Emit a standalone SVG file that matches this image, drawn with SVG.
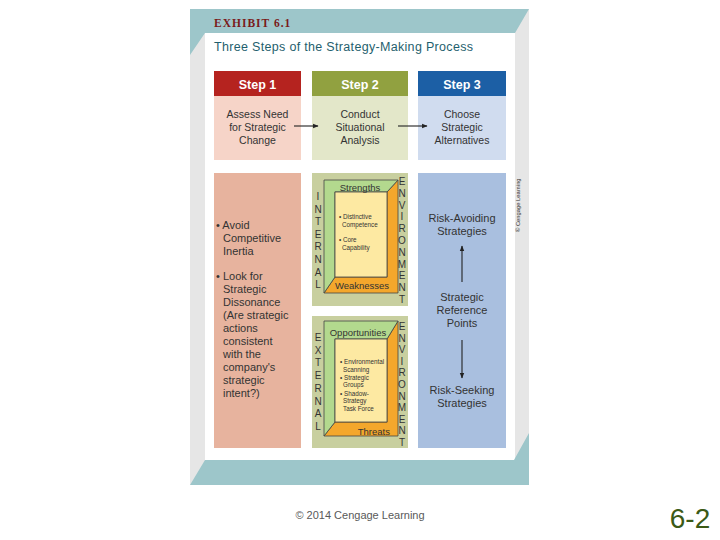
<svg xmlns="http://www.w3.org/2000/svg" width="720" height="540" viewBox="0 0 720 540">
<style>
.t{font-family:"Liberation Sans",Arial,sans-serif;fill:#333;}
.body{font-size:10.5px;text-anchor:middle;}
.lb{font-size:11px;}
.rb{font-size:11px;text-anchor:middle;}
.hd{font-family:"Liberation Sans",Arial,sans-serif;font-size:12.5px;font-weight:bold;fill:#fff;text-anchor:middle;}
.vl{font-family:"Liberation Sans",Arial,sans-serif;font-size:10px;fill:#333;text-anchor:middle;}
.sm{font-family:"Liberation Sans",Arial,sans-serif;font-size:6.3px;fill:#333;}
.band{font-family:"Liberation Sans",Arial,sans-serif;font-size:9.5px;fill:#333;}
.grn{fill:#b3d98e;stroke:#444;stroke-width:0.8;}
.org{fill:#f4a72c;stroke:#444;stroke-width:0.8;}
.yel{fill:#fde9a2;stroke:#444;stroke-width:0.8;}
.conn{stroke:#222;stroke-width:1.1;fill:none;marker-end:url(#ah);}
</style>
<defs>
<marker id="ah" viewBox="0 0 10 10" refX="9" refY="5" markerWidth="5" markerHeight="5" orient="auto">
<path d="M0,1 L10,5 L0,9 z" fill="#222"/>
</marker>
</defs>
<rect width="720" height="540" fill="#fff"/>
<!-- frame -->
<g id="frame">
<rect x="190" y="9" width="339" height="476" fill="#e6e6e6"/>
<rect x="205" y="33" width="310" height="427" fill="#fff"/>
<polygon points="190,9 529,9 515,33 205,33 190,55" fill="#9dc6ca"/>
<polygon points="190,485 529,485 529,433 514,460 205,460" fill="#9dc6ca"/>
<text x="214" y="27" font-family="Liberation Serif,serif" font-size="11.5" font-weight="bold" letter-spacing="1" fill="#7a1b1b">EXHIBIT 6.1</text>
<text x="214" y="51" font-family="Liberation Sans,Arial,sans-serif" font-size="12.5" fill="#1f5f6e" textLength="259">Three Steps of the Strategy-Making Process</text>
<text transform="translate(520,232) rotate(-90)" font-family="Liberation Sans,Arial,sans-serif" font-size="5.8" fill="#333">© Cengage Learning</text>
</g>
<!-- step 1 -->
<g id="step1">
<rect x="214" y="71" width="87" height="25" fill="#b5231f"/>
<text class="hd" x="257.5" y="89">Step 1</text>
<rect x="214" y="96" width="87" height="64" fill="#f6d4c8"/>
<text class="t body"><tspan x="257.5" y="118">Assess Need</tspan><tspan x="257.5" y="131">for Strategic</tspan><tspan x="257.5" y="144">Change</tspan></text>
</g>
<g id="step2">
<rect x="312" y="71" width="96" height="25" fill="#91a140"/>
<text class="hd" x="360" y="89">Step 2</text>
<rect x="312" y="96" width="96" height="64" fill="#e3e7c9"/>
<text class="t body"><tspan x="360" y="118">Conduct</tspan><tspan x="360" y="131">Situational</tspan><tspan x="360" y="144">Analysis</tspan></text>
</g>
<g id="step3">
<rect x="418" y="71" width="88" height="25" fill="#1c5fa5"/>
<text class="hd" x="462" y="89">Step 3</text>
<rect x="418" y="96" width="88" height="64" fill="#d0dcef"/>
<text class="t body"><tspan x="462" y="118">Choose</tspan><tspan x="462" y="131">Strategic</tspan><tspan x="462" y="144">Alternatives</tspan></text>
</g>
<!-- lower left -->
<g id="assess">
<rect x="214" y="173" width="87" height="275" fill="#e7b39e"/>
<text class="t lb"><tspan x="216" y="229">• Avoid</tspan><tspan x="223" y="242">Competitive</tspan><tspan x="223" y="255">Inertia</tspan><tspan x="216" y="280">• Look for</tspan><tspan x="223" y="293">Strategic</tspan><tspan x="223" y="306">Dissonance</tspan><tspan x="223" y="319">(Are strategic</tspan><tspan x="223" y="332">actions</tspan><tspan x="223" y="345">consistent</tspan><tspan x="223" y="358">with the</tspan><tspan x="223" y="371">company's</tspan><tspan x="223" y="384">strategic</tspan><tspan x="223" y="397">intent?)</tspan></text>
</g>
<!-- internal -->
<g id="internal">
<rect x="312" y="173" width="96" height="133" fill="#c8cf9f"/>
<polygon class="org" points="398,180 398,293 324,293 335,277 387,277 387,192"/>
<polygon class="grn" points="324,180 398,180 387,192 335,192 335,277 324,293"/>
<rect class="yel" x="335" y="192" width="52" height="85"/>
<text class="band" x="360" y="191" text-anchor="middle">Strengths</text>
<text class="band" x="362" y="289" text-anchor="middle">Weaknesses</text>
<text class="sm"><tspan x="339" y="219">• Distinctive</tspan><tspan x="342" y="227">Competence</tspan><tspan x="339" y="242">• Core</tspan><tspan x="342" y="250">Capability</tspan></text>
<text class="vl"><tspan x="318" y="200">I</tspan><tspan x="318" y="212.6">N</tspan><tspan x="318" y="225.2">T</tspan><tspan x="318" y="237.8">E</tspan><tspan x="318" y="250.4">R</tspan><tspan x="318" y="263">N</tspan><tspan x="318" y="275.6">A</tspan><tspan x="318" y="288.2">L</tspan></text>
<text class="vl"><tspan x="402" y="185">E</tspan><tspan x="402" y="196.8">N</tspan><tspan x="402" y="208.6">V</tspan><tspan x="402" y="220.4">I</tspan><tspan x="402" y="232.2">R</tspan><tspan x="402" y="244">O</tspan><tspan x="402" y="255.8">N</tspan><tspan x="402" y="267.6">M</tspan><tspan x="402" y="279.4">E</tspan><tspan x="402" y="291.2">N</tspan><tspan x="402" y="303">T</tspan></text>
</g>
<!-- external -->
<g id="external">
<rect x="312" y="316" width="96" height="132" fill="#c8cf9f"/>
<polygon class="org" points="398,321 398,436 324,436 335,422 387,422 387,339"/>
<polygon class="grn" points="324,321 398,321 387,339 335,339 335,422 324,436"/>
<rect class="yel" x="335" y="339" width="52" height="83"/>
<text class="band" x="358" y="336" text-anchor="middle">Opportunities</text>
<text class="band" x="390" y="435" text-anchor="end">Threats</text>
<text class="sm"><tspan x="340" y="364">• Environmental</tspan><tspan x="343" y="372">Scanning</tspan><tspan x="340" y="380">• Strategic</tspan><tspan x="343" y="387">Groups</tspan><tspan x="340" y="396">• Shadow-</tspan><tspan x="343" y="403">Strategy</tspan><tspan x="343" y="411">Task Force</tspan></text>
<text class="vl"><tspan x="318" y="341">E</tspan><tspan x="318" y="353.7">X</tspan><tspan x="318" y="366.4">T</tspan><tspan x="318" y="379.1">E</tspan><tspan x="318" y="391.8">R</tspan><tspan x="318" y="404.5">N</tspan><tspan x="318" y="417.2">A</tspan><tspan x="318" y="430">L</tspan></text>
<text class="vl"><tspan x="402" y="330">E</tspan><tspan x="402" y="341.6">N</tspan><tspan x="402" y="353.2">V</tspan><tspan x="402" y="364.8">I</tspan><tspan x="402" y="376.4">R</tspan><tspan x="402" y="388">O</tspan><tspan x="402" y="399.6">N</tspan><tspan x="402" y="411.2">M</tspan><tspan x="402" y="422.8">E</tspan><tspan x="402" y="434.4">N</tspan><tspan x="402" y="446">T</tspan></text>
</g>
<!-- strategic alternatives -->
<g id="alternatives">
<rect x="418" y="173" width="88" height="275" fill="#a9bfdf"/>
<text class="t rb"><tspan x="462" y="222">Risk-Avoiding</tspan><tspan x="462" y="235">Strategies</tspan></text>
<text class="t rb"><tspan x="462" y="301">Strategic</tspan><tspan x="462" y="314">Reference</tspan><tspan x="462" y="327">Points</tspan></text>
<text class="t rb"><tspan x="462" y="394">Risk-Seeking</tspan><tspan x="462" y="407">Strategies</tspan></text>
</g>
<g id="connectors">
<line class="conn" x1="294" y1="126" x2="318" y2="126"/>
<line class="conn" x1="398" y1="126" x2="427" y2="126"/>
<line class="conn" x1="462" y1="282" x2="462" y2="246"/>
<line class="conn" x1="462" y1="340" x2="462" y2="378"/>
</g>
<g id="footer">
<text x="360" y="519" font-family="Liberation Sans,Arial,sans-serif" font-size="11" fill="#595959" text-anchor="middle">© 2014 Cengage Learning</text>
<text x="690" y="528" font-family="Liberation Sans,Arial,sans-serif" font-size="28" fill="#3b5a16" text-anchor="middle">6-2</text>
</g>
</svg>
